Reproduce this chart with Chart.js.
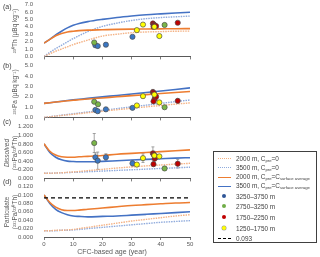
<!DOCTYPE html>
<html><head><meta charset="utf-8">
<script src="https://cdn.jsdelivr.net/npm/chart.js@4"></script>
<style>
body{margin:0;background:#fff;overflow:hidden;font-family:"Liberation Sans",Arial,sans-serif;}
#wrap{position:relative;width:320px;height:257px;overflow:hidden;}
canvas{position:absolute;left:0;}
.pl{position:absolute;left:3px;color:#404040;font-size:7px;line-height:7px;}
.yt{position:absolute;transform:translate(-50%,-50%) rotate(-90deg);white-space:nowrap;color:#595959;font-size:6.5px;line-height:8px;text-align:center;}
#xt{position:absolute;left:112px;top:251px;transform:translate(-50%,-50%);color:#595959;font-size:7px;white-space:nowrap;}
#leg{position:absolute;left:213px;top:151px;width:102px;height:90px;border:1.3px solid #404040;}
.li{position:absolute;left:22px;transform:translateY(-50%);font-size:6.4px;color:#404040;white-space:nowrap;line-height:7px;}
.li sub{font-size:4.2px;vertical-align:-1px;}
.ls{position:absolute;left:4px;width:13px;height:0;}
.dot{position:absolute;left:8px;width:4px;height:4px;border-radius:50%;transform:translateY(-50%);}
</style></head><body>
<div id="wrap">
<canvas id="ca" width="200" height="65" style="top:-2px"></canvas>
<canvas id="cb" width="200" height="65" style="top:59px"></canvas>
<canvas id="cc" width="200" height="65" style="top:120px"></canvas>
<canvas id="cd" width="200" height="77" style="top:180px"></canvas>
<div class="pl" style="top:3px">(a)</div>
<div class="pl" style="top:62px">(b)</div>
<div class="pl" style="top:118px">(c)</div>
<div class="pl" style="top:178px">(d)</div>
<div class="yt" style="left:15px;top:31px">²³⁰Th (μBq kg⁻¹)</div>
<div class="yt" style="left:15px;top:92px">²³¹Pa (μBq kg⁻¹)</div>
<div class="yt" style="left:11px;top:153px"><i>Dissolved</i><br>(²³¹Pa/²³⁰Th)</div>
<div class="yt" style="left:11px;top:212px">Particulate<br>(²³¹Pa/²³⁰Th)</div>
<div id="xt">CFC-based age (year)</div>
<div id="leg">
 <div class="ls" style="top:6px;border-top:1.5px dotted #F4B183"></div><div class="li" style="top:6.5px">2000 m, C<sub>pre</sub>=0</div>
 <div class="ls" style="top:15px;border-top:1.5px dotted #8FAADC"></div><div class="li" style="top:15.5px">3500 m, C<sub>pre</sub>=0</div>
 <div class="ls" style="top:24.5px;border-top:1.5px solid #ED7D31"></div><div class="li" style="top:25px">2000 m, C<sub>pre</sub>=C<sub>surface average</sub></div>
 <div class="ls" style="top:33.5px;border-top:1.5px solid #4472C4"></div><div class="li" style="top:34px">3500 m, C<sub>pre</sub>=C<sub>surface average</sub></div>
 <div class="dot" style="top:44px;background:#2F5597"></div><div class="li" style="top:44px">3250–3750 m</div>
 <div class="dot" style="top:53.5px;background:#70AD47"></div><div class="li" style="top:53.5px">2750–3250 m</div>
 <div class="dot" style="top:65px;background:#C00000"></div><div class="li" style="top:65px">1750–2250 m</div>
 <div class="dot" style="top:75.5px;background:#FFFF00;box-shadow:0 0 0 0.5px #999"></div><div class="li" style="top:75.5px">1250–1750 m</div>
 <div class="ls" style="top:85.5px;border-top:1.3px dashed #000"></div><div class="li" style="top:86px">0.093</div>
</div>
</div>
<script>
// ---- model curves (x = CFC-based age, year) ----
const modelAge = [0,2,4,6,8,10,12,15,20,25,30,35,40,45,50];
// (a) 230Th
const th2000Zero = [0,0.35,0.7,1.0,1.3,1.6,1.85,2.2,2.75,3.0,3.2,3.3,3.35,3.4,3.42];
const th3500Zero = [0,0.55,1.05,1.5,1.95,2.4,2.8,3.35,4.05,4.5,4.85,5.1,5.25,5.35,5.45];
const th2000Surf = [1.8,2.3,2.8,3.1,3.3,3.4,3.48,3.55,3.6,3.65,3.68,3.7,3.72,3.74,3.75];
const th3500Surf = [1.8,2.3,2.9,3.4,3.85,4.2,4.45,4.7,5.0,5.25,5.45,5.62,5.75,5.87,5.97];
// (b) 231Pa
const pa2000Zero = [0,0.06,0.12,0.18,0.24,0.3,0.36,0.45,0.6,0.74,0.88,1.02,1.15,1.28,1.4];
const pa3500Zero = [0,0.07,0.14,0.21,0.28,0.35,0.42,0.52,0.68,0.85,1.02,1.18,1.35,1.52,1.68];
const pa2000Surf = [1.35,1.42,1.48,1.54,1.6,1.65,1.7,1.77,1.88,1.99,2.1,2.2,2.3,2.4,2.5];
const pa3500Surf = [1.35,1.42,1.49,1.56,1.63,1.69,1.75,1.84,1.98,2.12,2.26,2.4,2.55,2.7,2.85];
// (c) dissolved 231Pa/230Th
const dis2000Zero = [0.12,0.12,0.125,0.13,0.14,0.15,0.16,0.18,0.21,0.24,0.265,0.29,0.31,0.33,0.35];
const dis3500Zero = [0.12,0.12,0.125,0.13,0.135,0.14,0.145,0.155,0.17,0.185,0.2,0.215,0.23,0.245,0.26];
const dis2000Surf = [0.8,0.63,0.54,0.5,0.49,0.49,0.5,0.51,0.53,0.56,0.58,0.6,0.62,0.64,0.66];
const dis3500Surf = [0.8,0.6,0.49,0.43,0.4,0.39,0.385,0.385,0.395,0.41,0.425,0.44,0.455,0.47,0.48];
// (d) particulate 231Pa/230Th
const par2000Zero = [0.015,0.015,0.016,0.016,0.017,0.018,0.02,0.023,0.028,0.033,0.038,0.042,0.046,0.05,0.053];
const par3500Zero = [0.015,0.015,0.015,0.016,0.016,0.017,0.018,0.02,0.023,0.026,0.029,0.032,0.035,0.037,0.039];
const par2000Surf = [0.1,0.082,0.071,0.065,0.063,0.063,0.064,0.066,0.069,0.072,0.075,0.077,0.079,0.081,0.082];
const par3500Surf = [0.1,0.08,0.066,0.058,0.053,0.05,0.049,0.048,0.049,0.05,0.052,0.054,0.056,0.058,0.06];
const prodRatio = 0.093;

// ---- observations by depth group ----
const blueAge = [17.6,18.4,21.2,30.3];
const blueTh = [1.5,1.4,1.58,2.65];
const bluePa = [0.72,0.6,0.78,0.92];
const blueDis = [0.49,0.41,0.49,0.35];
const bluePaErr = [0.05,0.05,0.05,0.05];
const blueDisErr = [0.1,0.2,0.08,0.07];

const greenAge = [17.2,18.5,41.3];
const greenTh = [1.88,null,4.25];
const greenPa = [1.51,1.27,0.98];
const greenDis = [0.82,null,0.23];
const greenPaErr = [0.05,0.05,0.05];
const greenDisErr = [0.22,0,0.03];

const redAge = [37.3,37.6,37.9,38.4,37.5,45.8];
const redTh = [4.45,4.3,4.2,4.1,4.02,4.55];
const redPa = [2.45,2.35,1.8,2.0,1.55,1.6];
const redDis = [0.58,0.55,0.46,0.5,0.33,0.34];
const redPaErr = [0.25,0.1,0.1,0.1,0.1,0.2];
const redDisErr = [0.15,0.08,0.06,0.06,0.05,0.1];

const yellowAge = [31.8,33.9,37.8,39.5];
const yellowTh = [3.55,4.3,4.0,2.75];
const yellowPa = [1.15,2.05,2.2,1.45];
const yellowDis = [0.32,0.47,0.53,0.51];
const yellowPaErr = [0.05,0.15,0.1,0.05];
const yellowDisErr = [0.04,0.1,0.05,0.04];

const xTicks = [0,10,20,30,40,50];

// ---- helpers ----
const C = {o:'#ED7D31', b:'#4472C4', od:'#F4B183', bd:'#8FAADC',
  blue:'#3A77C3', green:'#7AB648', red:'#C00000', yellow:'#FFFF00'};
function curve(vals, color, dash, width, order){
  return {type:'line', data:modelAge.map((a,i)=>({x:a,y:vals[i]})), borderColor:color,
    borderWidth:width, borderDash:dash, pointRadius:0, cubicInterpolationMode:'monotone', order:order, fill:false};
}
function pts(ages, vals, color, order){
  const d=[]; ages.forEach((a,i)=>{ if(vals[i]!=null) d.push({x:a,y:vals[i]}); });
  return {type:'scatter', data:d, backgroundColor:color, borderColor:'#4d4d4d', borderWidth:0.7,
    pointRadius:2.6, order:order};
}
const errPlugin = {id:'errbars', beforeDatasetsDraw(chart, args, opts){
  const sets = opts.sets||[]; const ctx=chart.ctx, xs=chart.scales.x, ys=chart.scales.y;
  ctx.save(); ctx.strokeStyle='#8c8c8c'; ctx.lineWidth=0.8;
  sets.forEach(s=>{ s.age.forEach((a,i)=>{ if(s.val[i]==null||!s.err[i]) return;
    const px=xs.getPixelForValue(a), y1=ys.getPixelForValue(s.val[i]-s.err[i]), y2=ys.getPixelForValue(s.val[i]+s.err[i]);
    ctx.beginPath(); ctx.moveTo(px,y1); ctx.lineTo(px,y2);
    ctx.moveTo(px-1.5,y1); ctx.lineTo(px+1.5,y1); ctx.moveTo(px-1.5,y2); ctx.lineTo(px+1.5,y2); ctx.stroke(); }); });
  ctx.restore(); }};

function makePanel(id, ymax, step, dec, curves, points, errs, showX, padBottom){
  const datasets = [
    curve(curves[0], C.od, [1.5,1], 1.4, 20),
    curve(curves[1], C.bd, [1.5,1], 1.4, 21),
    curve(curves[2], C.o, [], 1.6, 12),
    curve(curves[3], C.b, [], 1.6, 13)];
  if(curves[4]) datasets.push(curve(curves[4], '#000', [4,3], 1.3, 5));
  if(points){
    datasets.push(pts(blueAge, points[0], C.blue, 4));
    datasets.push(pts(greenAge, points[1], C.green, 3));
    datasets.push(pts(redAge, points[2], C.red, 2));
    datasets.push(pts(yellowAge, points[3], C.yellow, 1));
  }
  return new Chart(document.getElementById(id), {
    data:{datasets},
    plugins:[errPlugin],
    options:{responsive:false, animation:false, devicePixelRatio:1, events:[],
      layout:{padding:{left:0,right:10,top:6,bottom:padBottom}},
      plugins:{legend:{display:false}, tooltip:{enabled:false}, errbars:{sets:errs||[]}},
      scales:{
        x:{type:'linear', min:0, max:50, afterBuildTicks(s){ s.ticks = xTicks.map(v=>({value:v})); },
          grid:{display:true, drawOnChartArea:false, drawTicks:true, tickLength:3, color:'#7f7f7f'},
          border:{display:true, color:'#595959', width:1},
          ticks:{display:showX, autoSkip:false, padding:1, color:'#595959', font:{size:6, family:'Liberation Sans'}, maxRotation:0}},
        y:{type:'linear', min:0, max:ymax, afterFit(s){ s.width = 44; },
          grid:{display:false}, border:{display:false},
          ticks:{stepSize:step, autoSkip:false, padding:3, color:'#595959', font:{size:6, family:'Liberation Sans'},
            callback:(v)=>Number(v).toFixed(dec)}}
      }}
  });
}

makePanel('ca', 7, 1, 1, [th2000Zero, th3500Zero, th2000Surf, th3500Surf],
  [blueTh, greenTh, redTh, yellowTh], [], false, 2);
makePanel('cb', 5, 1, 1, [pa2000Zero, pa3500Zero, pa2000Surf, pa3500Surf],
  [bluePa, greenPa, redPa, yellowPa],
  [{age:blueAge,val:bluePa,err:bluePaErr},{age:greenAge,val:greenPa,err:greenPaErr},
   {age:redAge,val:redPa,err:redPaErr},{age:yellowAge,val:yellowPa,err:yellowPaErr}], false, 2);
makePanel('cc', 1.2, 0.2, 3, [dis2000Zero, dis3500Zero, dis2000Surf, dis3500Surf],
  [blueDis, greenDis, redDis, yellowDis],
  [{age:blueAge,val:blueDis,err:blueDisErr},{age:greenAge,val:greenDis,err:greenDisErr},
   {age:redAge,val:redDis,err:redDisErr},{age:yellowAge,val:yellowDis,err:yellowDisErr}], false, 2);
makePanel('cd', 0.12, 0.02, 3, [par2000Zero, par3500Zero, par2000Surf, par3500Surf, modelAge.map(()=>prodRatio)],
  null, [], true, 7.8);
</script>
</body></html>
